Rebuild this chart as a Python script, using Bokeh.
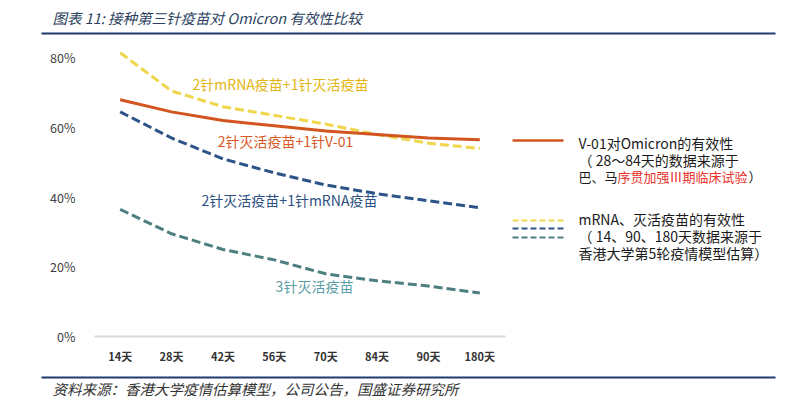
from bokeh.plotting import figure
from bokeh.layouts import column, row
from bokeh.models import FactorRange, Range1d, Label, FixedTicker
from bokeh.embed import file_html
from bokeh.resources import INLINE

# ---- data ----
days = ["14天", "28天", "42天", "56天", "70天", "84天", "90天", "180天"]
mrna2_inact1 = [81.5, 70.5, 66.0, 63.5, 61.0, 58.0, 55.5, 54.0]   # 2针mRNA疫苗+1针灭活疫苗
inact2_v01 = [68.0, 64.5, 62.0, 60.5, 59.0, 58.0, 57.0, 56.5]     # 2针灭活疫苗+1针V-01
inact2_mrna1 = [64.5, 57.0, 51.0, 47.0, 43.5, 41.0, 39.0, 37.0]   # 2针灭活疫苗+1针mRNA疫苗
inact3 = [36.5, 29.5, 25.0, 22.0, 18.0, 16.0, 14.5, 12.5]         # 3针灭活疫苗
y_ticks = [0, 20, 40, 60, 80]
y_tick_labels = ["0%", "20%", "40%", "60%", "80%"]

FONT = "Noto Sans CJK SC"
TOTAL_W = 800
TOP_H, MID_H, BOT_H = 36, 333, 30
MAIN_W = 510
BL, BR, BT, BB = 94, 5, 4, 33
Y_MAX = 85

YELLOW, ORANGE, BLUE, TEAL = "#efd64b", "#d2541f", "#2c5488", "#4e7f80"
NAVY = "#1f3a6e"


def deco(width, height, **borders):
    """A blank figure used as a drawing surface; data coords equal page pixels."""
    b = dict(min_border_left=0, min_border_right=0, min_border_top=0, min_border_bottom=0)
    b.update(borders)
    f = figure(width=width, height=height, x_axis_type=None, y_axis_type=None,
               output_backend="svg", toolbar_location=None, **b)
    f.outline_line_color = None
    f.background_fill_color = "white"
    f.border_fill_color = "white"
    return f


def put(f, text, x, y, color, size="14px", align="left", style="normal"):
    f.add_layout(Label(x=x, y=y, text=text, text_color=color,
                       text_font=FONT, text_font_size=size, text_font_style=style,
                       text_align=align, text_baseline="middle"))


# ---------- top strip: title + rule ----------
top = deco(TOTAL_W, TOP_H)
top.x_range = Range1d(0, TOTAL_W)
top.y_range = Range1d(TOP_H, 0)
put(top, "图表 11:  接种第三针疫苗对 Omicron 有效性比较", 52, 17, "#2b3f5e", size="14.5px", style="italic")
top.line([41, 775], [33, 33], line_color=NAVY, line_width=2)

# ---------- main chart ----------
p = figure(width=MAIN_W, height=MID_H, x_range=FactorRange(*days), y_range=Range1d(0, Y_MAX),
           output_backend="svg", toolbar_location=None,
           min_border_left=BL, min_border_right=BR, min_border_top=BT, min_border_bottom=BB)
p.outline_line_color = None
p.xgrid.grid_line_color = None
p.ygrid.grid_line_color = None
p.background_fill_color = "white"
p.border_fill_color = "white"

fw = (MAIN_W - BL - BR) / len(days)
fh = (MID_H - BT - BB) / Y_MAX
def X(px):
    return (px - BL) / fw
def Y(py):
    return (TOP_H + MID_H - BB - py) / fh

p.yaxis.ticker = FixedTicker(ticks=y_ticks)
p.yaxis.major_label_overrides = {t: l for t, l in zip(y_ticks, y_tick_labels)}
p.yaxis.axis_line_color = None
p.yaxis.major_tick_line_color = None
p.yaxis.minor_tick_line_color = None
p.yaxis.major_label_standoff = 13
p.yaxis.major_label_text_font = FONT
p.yaxis.major_label_text_font_size = "12.5px"
p.yaxis.major_label_text_color = "#404040"

p.xaxis.axis_line_color = "#d9d9d9"
p.xaxis.axis_line_width = 2
p.xaxis.major_tick_line_color = None
p.xaxis.minor_tick_line_color = None
p.xaxis.major_label_standoff = 5
p.xaxis.major_label_text_font = FONT
p.xaxis.major_label_text_font_size = "11px"
p.xaxis.major_label_text_font_style = "bold"
p.xaxis.major_label_text_color = "#333333"

p.line(days, mrna2_inact1, line_color=YELLOW, line_width=3, line_dash="9 4")
p.line(days, inact2_v01, line_color=ORANGE, line_width=3)
p.line(days, inact2_mrna1, line_color=BLUE, line_width=3, line_dash="9 4")
p.line(days, inact3, line_color=TEAL, line_width=3, line_dash="9 4")

put(p, "2针mRNA疫苗+1针灭活疫苗", X(280), Y(83), "#e2b514", align="center")
put(p, "2针灭活疫苗+1针V-01", X(285), Y(140), "#d9581f", align="center")
put(p, "2针灭活疫苗+1针mRNA疫苗", X(289), Y(199), "#2b4f80", align="center")
put(p, "3针灭活疫苗", X(314), Y(285), "#5b9da5", align="center")

# ---------- right strip: custom legend (same borders as the main chart so frames align) ----------
leg = deco(TOTAL_W - MAIN_W, MID_H, min_border_top=BT, min_border_bottom=BB)
leg.x_range = Range1d(MAIN_W, TOTAL_W)
leg.y_range = Range1d(TOP_H + MID_H - BB, TOP_H + BT)
leg.line([512, 563], [140, 140], line_color=ORANGE, line_width=2.5)
put(leg, "V-01对Omicron的有效性", 578, 142, "#1a1a1a")
put(leg, "（ 28～84天的数据来源于", 578, 159, "#1a1a1a")
put(leg, "巴、马", 578, 176, "#1a1a1a", size="13px")
put(leg, "序贯加强Ⅲ期临床试验", 617, 176, "#e8322a", size="13px")
put(leg, "）", 748, 176, "#1a1a1a", size="13px")
leg.line([512, 566], [220, 220], line_color=YELLOW, line_width=2, line_dash="6 3")
leg.line([512, 566], [228, 228], line_color=BLUE, line_width=2, line_dash="6 3")
leg.line([512, 566], [237, 237], line_color=TEAL, line_width=2, line_dash="6 3")
put(leg, "mRNA、灭活疫苗的有效性", 578, 218, "#1a1a1a")
put(leg, "（ 14、90、180天数据来源于", 578, 235, "#1a1a1a")
put(leg, "香港大学第5轮疫情模型估算）", 578, 252, "#1a1a1a")

# ---------- bottom strip: rule + source ----------
bot = deco(TOTAL_W, BOT_H)
bot.x_range = Range1d(0, TOTAL_W)
bot.y_range = Range1d(TOP_H + MID_H + BOT_H, TOP_H + MID_H)
bot.line([41, 775], [377, 377], line_color=NAVY, line_width=2)
put(bot, "资料来源：香港大学疫情估算模型，公司公告，国盛证券研究所", 52, 388, "#333333", size="14.5px", style="italic")

layout = column(top, row(p, leg, spacing=0), bot, spacing=0)
open("out.html", "w").write(file_html(layout, INLINE))
